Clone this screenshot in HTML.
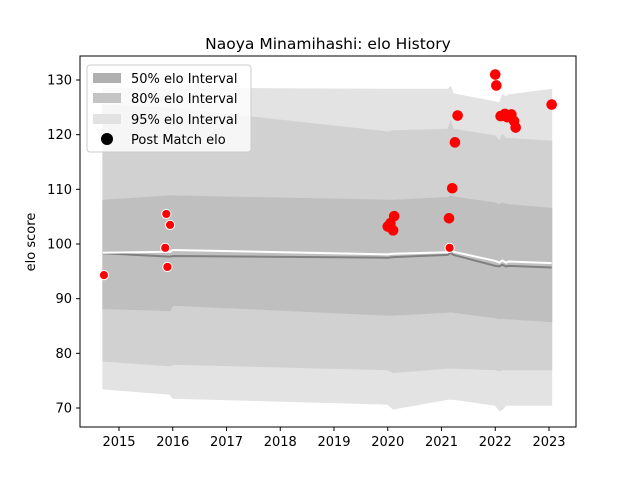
<!DOCTYPE html>
<html><head><meta charset="utf-8"><style>
body{margin:0;background:#fff;font-family:"DejaVu Sans","Liberation Sans",sans-serif}
svg text{font-family:"DejaVu Sans","Liberation Sans",sans-serif}
</style></head><body>
<svg id="chart" width="640" height="480" viewBox="0 0 640 480">
<rect width="640" height="480" fill="#fff"/>
<g id="bands"></g>
<g id="lines"></g>
<g id="pts"></g>
<rect x="80" y="56" width="496" height="371" fill="none" stroke="#000" stroke-width="1"/>
<g id="xt"></g>
<g id="yt"></g>
<text x="328" y="49" font-size="15.5" text-anchor="middle">Naoya Minamihashi: elo History</text>
<text transform="translate(35,242) rotate(-90)" font-size="13" text-anchor="middle">elo score</text>
<g>
<rect x="87" y="65" width="164" height="87" rx="3" fill="#fff" fill-opacity="0.8" stroke="#ccc"/>
<rect x="93" y="73" width="28" height="10" fill="#b0b0b0"/>
<text x="131" y="83" font-size="13">50% elo Interval</text>
<rect x="93" y="93" width="28" height="10" fill="#c4c4c4"/>
<text x="131" y="103" font-size="13">80% elo Interval</text>
<rect x="93" y="114" width="28" height="10" fill="#e2e2e2"/>
<text x="131" y="124" font-size="13">95% elo Interval</text>
<circle cx="107" cy="139" r="6" fill="#000"/>
<text x="131" y="144" font-size="13">Post Match elo</text>
</g>
</svg>
<script>
const dates = [2014.7, 2015.95, 2016.0, 2020.0, 2020.1, 2021.12, 2021.17, 2021.22, 2022.0, 2022.08, 2022.13, 2022.2, 2022.25, 2023.05];
const mean  = [98.3, 97.7, 97.8, 97.5, 97.6, 98.0, 98.4, 98.0, 96.0, 95.9, 96.2, 95.9, 96.0, 95.7];
const meanW = [98.4, 98.6, 98.9, 98.1, 98.2, 98.5, 98.9, 98.6, 96.9, 96.6, 97.0, 96.6, 96.8, 96.5];
const lo50 = [88.2, 87.8, 88.8, 87.0, 87.0, 87.5, 87.6, 87.5, 86.5, 86.3, 86.4, 86.3, 86.3, 85.8];
const hi50 = [108.0, 108.8, 108.8, 108.0, 108.0, 108.5, 108.8, 108.6, 107.5, 107.2, 107.5, 107.3, 107.2, 106.5];
const lo80 = [78.6, 77.7, 78.0, 77.0, 76.5, 77.3, 77.3, 77.3, 77.0, 76.8, 77.0, 77.0, 77.0, 77.0];
const hi80 = [125.4, 124.8, 124.8, 120.5, 120.7, 121.0, 122.5, 121.0, 119.8, 118.8, 120.0, 119.3, 119.3, 118.8];
const lo95 = [73.5, 72.5, 71.8, 70.7, 69.8, 71.6, 71.6, 71.6, 70.5, 69.5, 69.7, 70.5, 70.5, 70.5];
const hi95 = [128.5, 128.5, 128.5, 128.3, 128.3, 128.3, 128.8, 127.5, 126.0, 125.8, 127.3, 127.0, 127.3, 128.3];
const ptYears = [2014.72, 2015.88, 2015.95, 2015.86, 2015.9, 2020.0, 2020.05, 2020.1, 2020.12, 2021.14, 2021.15, 2021.2, 2021.25, 2021.3, 2022.0, 2022.02, 2022.1, 2022.18, 2022.22, 2022.3, 2022.35, 2022.38, 2023.05];
const ptElo   = [94.3, 105.5, 103.5, 99.3, 95.8, 103.2, 103.8, 102.5, 105.1, 104.7, 99.3, 110.2, 118.6, 123.5, 131.0, 129.0, 123.4, 123.8, 123.2, 123.7, 122.5, 121.3, 125.5];
const ptEdged = [1,1,1,1,1,0,0,0,0,0,1,0,0,0,0,0,0,0,0,0,0,0,0];
const xTicks = [2015, 2016, 2017, 2018, 2019, 2020, 2021, 2022, 2023];
const yTicks = [70, 80, 90, 100, 110, 120, 130];

const X = y => 119 + (y - 2015) * 53.75;
const Y = v => 80 + (130 - v) * (328 / 60);
const NS = 'http://www.w3.org/2000/svg';
function mk(tag, parent, attrs){const e=document.createElementNS(NS,tag);for(const k in attrs)e.setAttribute(k,attrs[k]);parent.appendChild(e);return e;}
function band(lo, hi, fill, name){
  let d = dates.map((t,i)=>(i?'L':'M')+X(t).toFixed(1)+','+Y(hi[i]).toFixed(1)).join('');
  for(let i=dates.length-1;i>=0;i--) d+='L'+X(dates[i]).toFixed(1)+','+Y(lo[i]).toFixed(1);
  const p = mk('path', document.getElementById('bands'), {d:d+'Z', fill:fill, stroke:fill});
  
  
}
band(lo95, hi95, '#e3e3e3', 'band-95');
band(lo80, hi80, '#d1d1d1', 'band-80');
band(lo50, hi50, '#bfbfbf', 'band-50');
function line(arr, col, w, name){
  const d = dates.map((t,i)=>(i?'L':'M')+X(t).toFixed(1)+','+Y(arr[i]).toFixed(1)).join('');
  const p = mk('path', document.getElementById('lines'), {d:d, fill:'none', stroke:col, 'stroke-width':w});
  
  
}
line(mean, '#808080', 2, 'mean-elo-line');
line(meanW, '#ffffff', 2, 'median-elo-line');
const pg = document.getElementById('pts');
ptYears.forEach((t,i)=>{
  const edged = ptEdged[i] === 1;
  const c = mk('circle', pg, {cx:X(t), cy:Y(ptElo[i]), r: edged ? 4.6 : 5.3, fill:'#ff0000', stroke: edged ? '#fff' : 'none', 'stroke-width':1});
  
  
});
const xg = document.getElementById('xt');
xTicks.forEach(t=>{
  const l = mk('line', xg, {x1:X(t), x2:X(t), y1:427, y2:431, stroke:'#000'});
  
  
  const s = mk('text', xg, {x:X(t), y:446, 'font-size':13, 'text-anchor':'middle'});
  s.textContent = t;
  
  
});
const yg = document.getElementById('yt');
yTicks.forEach(v=>{
  const l = mk('line', yg, {x1:76, x2:80, y1:Y(v), y2:Y(v), stroke:'#000'});
  
  
  const s = mk('text', yg, {x:72, y:Y(v)+4.5, 'font-size':13, 'text-anchor':'end'});
  s.textContent = v;
  
  
});
</script>
</body></html>
